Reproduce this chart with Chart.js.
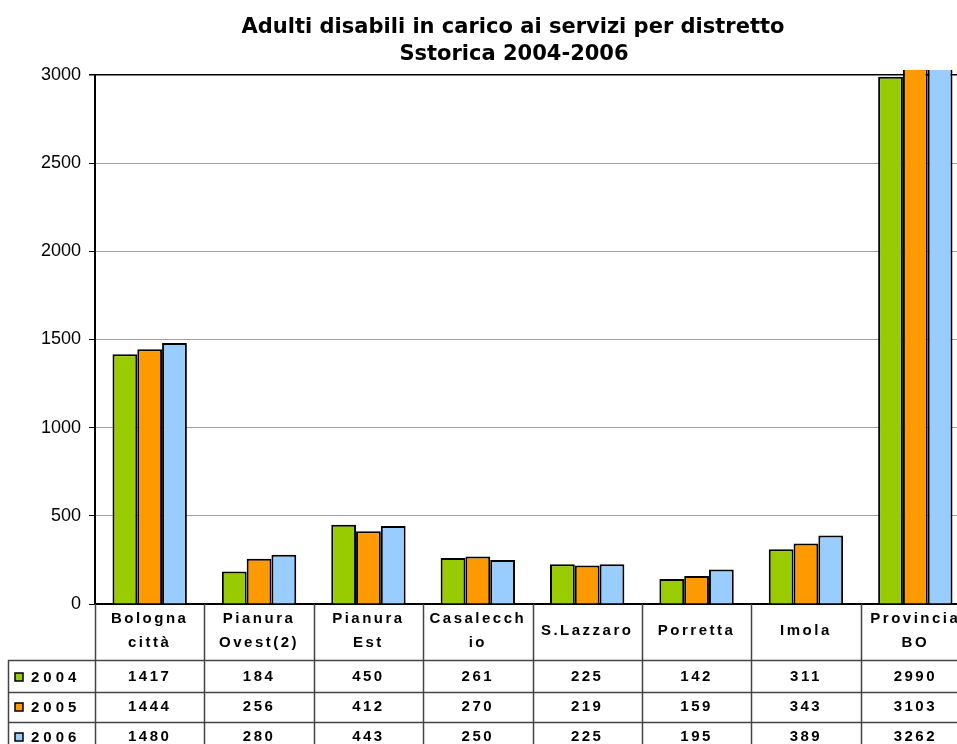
<!DOCTYPE html>
<html>
<head>
<meta charset="utf-8">
<script src="https://cdn.jsdelivr.net/npm/chart.js@4/dist/chart.umd.min.js"></script>
<style>
    html, body { margin: 0; padding: 0; background: #fff; overflow: hidden; }
    #wrap { width: 970px; height: 744px; }
</style>
</head>
<body>
<div id="wrap"><canvas id="chart" width="970" height="744"></canvas></div>
<script>
// Data
const categories = ['Bologna città', 'Pianura Ovest(2)', 'Pianura Est', 'Casalecchio', 'S.Lazzaro', 'Porretta', 'Imola', 'Provincia BO'];
const headerLines = [['Bologna', 'città'], ['Pianura', 'Ovest(2)'], ['Pianura', 'Est'], ['Casalecch', 'io'], ['S.Lazzaro'], ['Porretta'], ['Imola'], ['Provincia', 'BO']];
const years = ['2004', '2005', '2006'];
const values2004 = [1417, 184, 450, 261, 225, 142, 311, 2990];
const values2005 = [1444, 256, 412, 270, 219, 159, 343, 3103];
const values2006 = [1480, 280, 443, 250, 225, 195, 389, 3262];
const yTicks = [0, 500, 1000, 1500, 2000, 2500, 3000];
const colors = ['#99cc00', '#ff9900', '#99ccff'];
const titleLines = ['Adulti disabili in carico ai servizi per distretto', 'Sstorica 2004-2006'];

const seriesValues = [values2004, values2005, values2006];

// Title + data table drawn under the plot
const tablePlugin = {
    id: 'dataTable',
    afterDraw(chart) {
        const ctx = chart.ctx;
        const area = chart.chartArea;
        const xs = chart.scales.x;
        const w = (area.right - area.left) / categories.length;
        const top = area.bottom;
        const rowLines = [660, 692, 722];
        const rowText = [677, 707, 737];

        ctx.save();
        // title
        ctx.fillStyle = '#000';
        ctx.textAlign = 'center';
        ctx.textBaseline = 'middle';
        ctx.font = 'bold 21px "DejaVu Sans"';
        ctx.fillText(titleLines[0], 513, 28);
        ctx.fillText(titleLines[1], 514, 55);

        // table lines
        ctx.strokeStyle = '#444';
        ctx.lineWidth = 1.5;
        ctx.beginPath();
        for (let i = 0; i <= categories.length; i++) {
            const x = Math.round(area.left + i * w) + 0.5;
            ctx.moveTo(x, top);
            ctx.lineTo(x, 744);
        }
        rowLines.forEach(y => {
            ctx.moveTo(8, y + 0.5);
            ctx.lineTo(chart.width, y + 0.5);
        });
        ctx.moveTo(8.5, rowLines[0]);
        ctx.lineTo(8.5, 744);
        ctx.stroke();

        // header labels
        ctx.font = 'bold 15px "Liberation Sans"';
        ctx.letterSpacing = '2.5px';
        headerLines.forEach((lines, i) => {
            const cx = xs.getPixelForValue(i);
            if (lines.length === 1) {
                ctx.fillText(lines[0], cx, 631);
            } else {
                ctx.fillText(lines[0], cx, 619);
                ctx.fillText(lines[1], cx, 643);
            }
        });

        // values
        seriesValues.forEach((vals, r) => {
            vals.forEach((v, i) => {
                ctx.fillText(String(v), xs.getPixelForValue(i), rowText[r]);
            });
        });

        // legend keys
        ctx.letterSpacing = '4px';
        ctx.textAlign = 'left';
        years.forEach((y, r) => {
            ctx.fillStyle = colors[r];
            ctx.fillRect(15, rowText[r] - 4, 8, 8);
            ctx.strokeStyle = '#000';
            ctx.lineWidth = 1.5;
            ctx.strokeRect(15, rowText[r] - 4, 8, 8);
            ctx.fillStyle = '#000';
            ctx.fillText(y, 31, rowText[r] + 1);
        });
        ctx.restore();
    }
};

const ctx = document.getElementById('chart');
new Chart(ctx, {
    type: 'bar',
    data: {
        labels: categories,
        datasets: years.map((y, i) => ({
            label: y,
            data: seriesValues[i],
            backgroundColor: colors[i],
            borderColor: '#000',
            borderWidth: 2,
            borderSkipped: 'bottom',
            clip: { left: 0, top: 5, right: 0, bottom: 0 }
        }))
    },
    options: {
        responsive: false,
        animation: false,
        layout: { padding: { top: 75, left: 0, right: 0, bottom: 0 } },
        plugins: {
            legend: { display: false },
            title: { display: false },
            tooltip: { enabled: false }
        },
        datasets: {
            bar: { barPercentage: 1, categoryPercentage: 0.68 }
        },
        scales: {
            x: {
                ticks: { display: false },
                grid: { display: false },
                border: { color: '#000', width: 2 },
                afterFit(scale) { scale.height = 140; }
            },
            y: {
                min: 0,
                max: 3000,
                afterBuildTicks(scale) { scale.ticks = yTicks.map(v => ({ value: v })); },
                ticks: {
                    color: '#000',
                    padding: 8,
                    font: { family: 'Liberation Sans', size: 18 },
                    callback: v => String(v)
                },
                grid: {
                    color: c => c.tick && c.tick.value === 3000 ? '#000' : '#a0a0a0',
                    lineWidth: c => c.tick && c.tick.value === 3000 ? 1.5 : 1,
                    tickColor: '#000',
                    tickLength: 6
                },
                border: { color: '#000', width: 2 },
                afterFit(scale) { scale.width = 95; }
            }
        }
    },
    plugins: [tablePlugin]
});
</script>
</body>
</html>
